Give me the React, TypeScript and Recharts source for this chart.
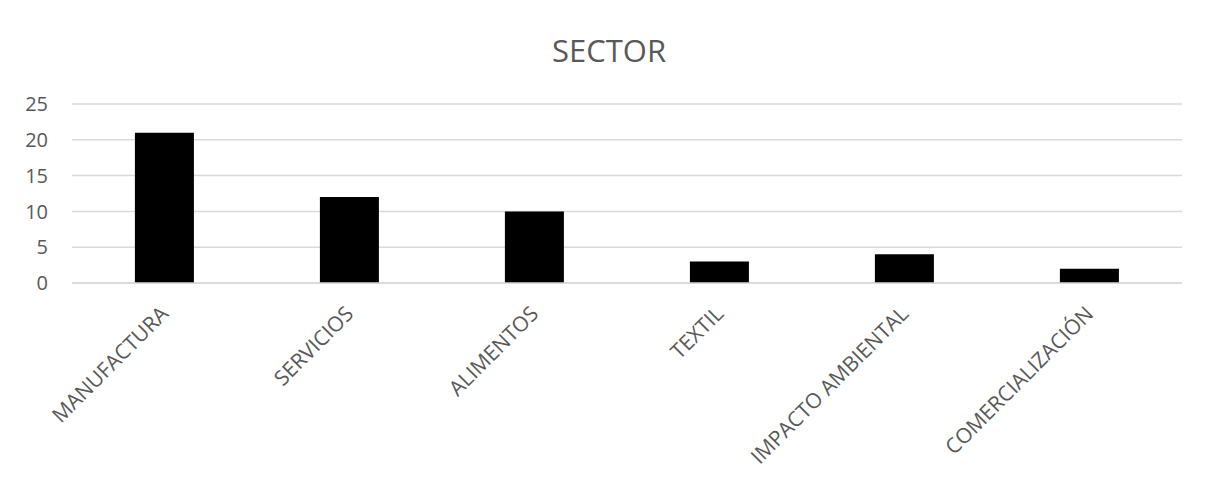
import React from 'react';
import { BarChart, Bar, XAxis, YAxis, CartesianGrid } from 'recharts';

const categories = ['MANUFACTURA', 'SERVICIOS', 'ALIMENTOS', 'TEXTIL', 'IMPACTO AMBIENTAL', 'COMERCIALIZACIÓN'];
const counts = [21, 12, 10, 3, 4, 2];
const yTicks = [0, 5, 10, 15, 20, 25];

const data = categories.map((name, i) => ({ name, value: counts[i] }));

const FONT = '"Open Sans", Calibri, sans-serif';
const TEXT = '#595959';
const GRID = '#d9d9d9';

const XTick = (props: any) => {
  const { x, payload } = props;
  return (
    <g transform={`translate(${x},${310})`}>
      <text
        textAnchor="end"
        transform="rotate(-45)"
        fill={TEXT}
        fontSize={21}
        fontFamily={FONT}
        dy="0.35em"
      >
        {payload.value}
      </text>
    </g>
  );
};

export default function App() {
  return (
    <div style={{ position: 'relative', width: 1212, height: 487, margin: -8, overflow: 'hidden', background: '#fff' }}>
      <BarChart
        width={1212}
        height={487}
        data={data}
        margin={{ top: 104, right: 30, bottom: 0, left: 0 }}
        barCategoryGap="34%"
      >
        <rect x={7} y={6} width={1203} height={600} fill="none" stroke={GRID} strokeWidth={2} />
        <text x={609} y={62} textAnchor="middle" fill={TEXT} fontSize={31} fontFamily={FONT}>
          SECTOR
        </text>
        <CartesianGrid vertical={false} stroke={GRID} strokeWidth={1.5} />
        <XAxis
          dataKey="name"
          interval={0}
          tickLine={false}
          axisLine={{ stroke: GRID, strokeWidth: 1.5 }}
          height={204}
          tick={<XTick />}
        />
        <YAxis
          width={72}
          domain={[0, 25]}
          ticks={yTicks}
          tickLine={false}
          axisLine={false}
          tickMargin={18}
          tick={{ fill: TEXT, fontSize: 20, fontFamily: FONT }}
        />
        <Bar dataKey="value" fill="#000000" isAnimationActive={false} />
      </BarChart>
    </div>
  );
}
